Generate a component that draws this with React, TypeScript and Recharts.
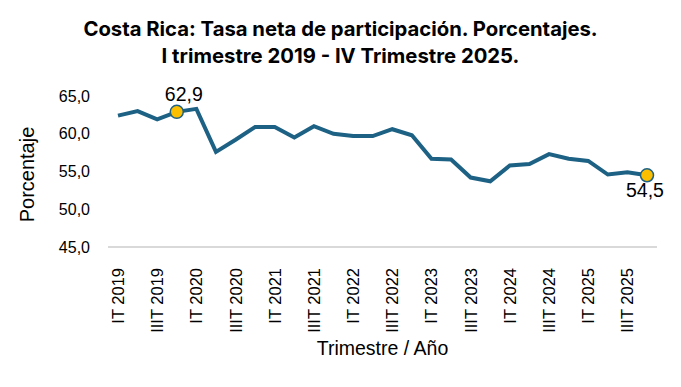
import { LineChart, Line, XAxis, YAxis } from "recharts";

// Costa Rica: tasa neta de participación, trimestral
const trimestres = [
  "IT 2019", "IIT 2019", "IIIT 2019", "IVT 2019",
  "IT 2020", "IIT 2020", "IIIT 2020", "IVT 2020",
  "IT 2021", "IIT 2021", "IIIT 2021", "IVT 2021",
  "IT 2022", "IIT 2022", "IIIT 2022", "IVT 2022",
  "IT 2023", "IIT 2023", "IIIT 2023", "IVT 2023",
  "IT 2024", "IIT 2024", "IIIT 2024", "IVT 2024",
  "IT 2025", "IIT 2025", "IIIT 2025", "IVT 2025",
];
const tasa = [
  62.4, 63.0, 61.9, 62.9,
  63.3, 57.6, 59.2, 60.9,
  60.9, 59.5, 61.0, 60.0,
  59.7, 59.7, 60.6, 59.8,
  56.7, 56.6, 54.2, 53.7,
  55.8, 56.0, 57.3, 56.7,
  56.4, 54.6, 54.9, 54.5,
];
// puntos resaltados: IVT 2019 y IVT 2025
const resaltados = ["IVT 2019", "IVT 2025"];
const yTicks = [45, 50, 55, 60, 65];

const data = trimestres.map((t, i) => ({ trimestre: t, tasa: tasa[i] }));

const AZUL = "#1d6184";
const AMARILLO = "#fcbf00";
const FUENTE = "Liberation Sans, Arial, sans-serif";
const fmt = (v: number) => v.toFixed(1).replace(".", ",");

function Punto(props: any) {
  const { cx, cy, payload } = props;
  if (!resaltados.includes(payload.trimestre)) return <g key={payload.trimestre} />;
  const ultimo = payload.trimestre === resaltados[resaltados.length - 1];
  return (
    <g key={payload.trimestre}>
      <circle cx={cx} cy={cy} r={6.5} fill={AMARILLO} stroke={AZUL} strokeWidth={1.5} />
      <text
        x={ultimo ? cx - 2 : cx + 7}
        y={ultimo ? cy + 22 : cy - 11}
        textAnchor="middle"
        fontSize={19.5}
        fontFamily={FUENTE}
        fill="#000"
      >
        {fmt(payload.tasa)}
      </text>
    </g>
  );
}

function TickX(props: any) {
  const { x, y, payload } = props;
  const bx = x + 6;
  const by = y + 13;
  return (
    <text
      x={bx}
      y={by}
      transform={`rotate(-90 ${bx} ${by})`}
      textAnchor="end"
      fontSize={16.5}
      fontFamily={FUENTE}
      fill="#000"
    >
      {payload.value}
    </text>
  );
}

export default function App() {
  return (
    <div
      style={{
        position: "absolute",
        left: 0,
        top: 0,
        width: 681,
        height: 387,
        background: "#fff",
        fontFamily: FUENTE,
      }}
    >
      <div
        style={{
          position: "absolute",
          left: 0,
          top: 15,
          width: 681,
          textAlign: "center",
          fontFamily: "Inter, sans-serif",
          fontWeight: 700,
          fontSize: 20.3,
          lineHeight: "27px",
          color: "#000",
        }}
      >
        Costa Rica: Tasa neta de participación. Porcentajes.
        <br />
        I trimestre 2019 - IV Trimestre 2025.
      </div>
      <LineChart
        width={681}
        height={387}
        data={data}
        margin={{ top: 96, right: 24, bottom: 0, left: 0 }}
      >
        <XAxis
          dataKey="trimestre"
          interval={1}
          padding={{ left: 10, right: 10 }}
          tick={<TickX />}
          tickLine={false}
          axisLine={{ stroke: "#d9d9d9", strokeWidth: 2 }}
          height={140}
          label={{
            value: "Trimestre / Año",
            position: "insideBottom",
            offset: 32,
            fontSize: 19.5,
            fill: "#000",
            fontFamily: FUENTE,
          }}
        />
        <YAxis
          domain={[45, 65]}
          ticks={yTicks}
          width={108}
          axisLine={false}
          tickLine={false}
          tickMargin={12}
          tickFormatter={fmt}
          tick={{ fontSize: 16, fill: "#000", fontFamily: FUENTE }}
          label={{
            value: "Porcentaje",
            angle: -90,
            position: "insideLeft",
            offset: 27,
            dy: 3,
            style: { textAnchor: "middle" },
            fontSize: 20,
            fill: "#000",
            fontFamily: FUENTE,
          }}
        />
        <Line
          type="linear"
          dataKey="tasa"
          stroke={AZUL}
          strokeWidth={4}
          dot={<Punto />}
          activeDot={false}
          isAnimationActive={false}
        />
      </LineChart>
    </div>
  );
}
